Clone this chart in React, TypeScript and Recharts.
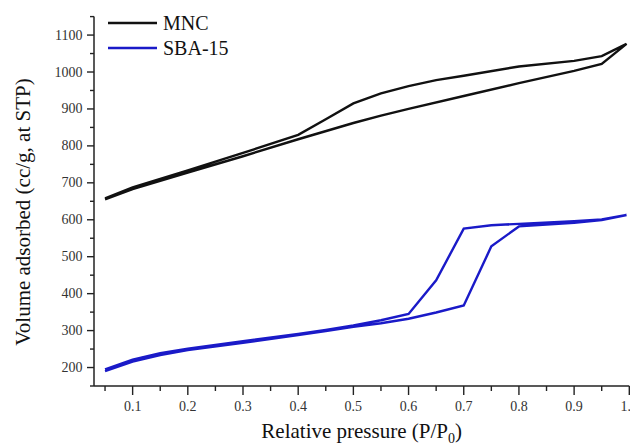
import { LineChart, Line, XAxis, YAxis, Legend, Label } from "recharts"

// relative pressure (P/P0) and volume adsorbed (cc/g at STP)
const mncAdsP = [0.05, 0.1, 0.2, 0.3, 0.4, 0.5, 0.55, 0.6, 0.7, 0.8, 0.9, 0.95, 0.995]
const mncAdsV = [655, 683, 728, 772, 818, 862, 882, 900, 935, 970, 1003, 1022, 1076]
const mncDesP = [0.995, 0.95, 0.9, 0.8, 0.7, 0.65, 0.6, 0.55, 0.5, 0.45, 0.4, 0.3, 0.2, 0.1, 0.05]
const mncDesV = [1076, 1043, 1030, 1015, 990, 978, 962, 942, 915, 872, 830, 781, 734, 688, 658]

const sbaAdsP = [0.05, 0.1, 0.15, 0.2, 0.3, 0.4, 0.45, 0.5, 0.55, 0.6, 0.65, 0.7, 0.75, 0.8, 0.85, 0.9, 0.95, 0.995]
const sbaAdsV = [190, 216, 234, 247, 267, 288, 299, 310, 320, 332, 349, 368, 528, 582, 587, 592, 599, 613]
const sbaDesP = [0.995, 0.95, 0.9, 0.8, 0.75, 0.7, 0.65, 0.6, 0.55, 0.5, 0.45, 0.4, 0.3, 0.2, 0.15, 0.1, 0.05]
const sbaDesV = [613, 601, 596, 589, 585, 576, 436, 345, 328, 314, 302, 291, 271, 251, 239, 221, 195]

const xTicks = [0.05, 0.1, 0.15, 0.2, 0.25, 0.3, 0.35, 0.4, 0.45, 0.5, 0.55, 0.6, 0.65, 0.7, 0.75, 0.8, 0.85, 0.9, 0.95, 1.0]
const yTicks = [150, 200, 250, 300, 350, 400, 450, 500, 550, 600, 650, 700, 750, 800, 850, 900, 950, 1000, 1050, 1100, 1150]

const FONT = "Liberation Serif"
const AXIS = "#222"

const loop = (aP: number[], aV: number[], dP: number[], dV: number[]) => [
  ...aP.map((p, i) => ({ p, v: aV[i] })),
  ...dP.map((p, i) => ({ p, v: dV[i] })),
]

const mncData = loop(mncAdsP, mncAdsV, mncDesP, mncDesV)
const sbaData = loop(sbaAdsP, sbaAdsV, sbaDesP, sbaDesV)

const XTick = (props: any) => {
  const { x, y, payload } = props
  const major = Math.round(payload.value * 100) % 10 === 0
  return (
    <g>
      <line x1={x} x2={x} y1={y} y2={y + (major ? 9 : 5)} stroke={AXIS} strokeWidth={1.4} />
      {major && (
        <text x={x} y={y + 20} textAnchor="middle" dominantBaseline="central" fontFamily={FONT} fontSize={14} fill="#333">
          {payload.value.toFixed(1)}
        </text>
      )}
    </g>
  )
}

const YTick = (props: any) => {
  const { x, y, payload } = props
  const major = payload.value % 100 === 0
  return (
    <g>
      <line x1={x} x2={x - (major ? 7 : 4)} y1={y} y2={y} stroke={AXIS} strokeWidth={1.4} />
      {major && payload.value >= 200 && payload.value <= 1100 && (
        <text x={x - 11.5} y={y} textAnchor="end" dominantBaseline="central" fontFamily={FONT} fontSize={14} fill="#333">
          {payload.value}
        </text>
      )}
    </g>
  )
}

const XLabel = (props: any) => {
  const vb = props.viewBox
  return (
    <text x={vb.x + vb.width / 2} y={vb.y + 52} textAnchor="middle" fontFamily={FONT} fontSize={21} fill="#111">
      Relative pressure (P/P<tspan dy={5} fontSize={14}>0</tspan><tspan dy={-5}>)</tspan>
    </text>
  )
}

const YLabel = () => {
  const cx = 15
  const cy = 204
  return (
    <text x={cx} y={cy} transform={`rotate(-90, ${cx}, ${cy})`} textAnchor="middle" dominantBaseline="central" fontFamily={FONT} fontSize={21} fill="#111">
      Volume adsorbed (cc/g, at STP)
    </text>
  )
}

const renderLegend = (props: any) => (
  <svg width={160} height={60}>
    {(props.payload || []).map((item: any, i: number) => (
      <g key={item.value}>
        <line x1={8} x2={57} y1={15 + 25 * i} y2={15 + 25 * i} stroke={item.color} strokeWidth={2.5} />
        <text x={63} y={15 + 25 * i} dominantBaseline="central" fontFamily={FONT} fontSize={20} fill="#111">
          {item.value}
        </text>
      </g>
    ))}
  </svg>
)

export default function App() {
  return (
    <LineChart width={630} height={438} margin={{ top: 8.6, right: 8.7, left: 0, bottom: 0 }}>
      <XAxis
        type="number"
        dataKey="p"
        domain={[0.03, 1.0]}
        ticks={xTicks}
        interval={0}
        tick={<XTick />}
        tickLine={false}
        tickSize={0}
        tickMargin={0}
        height={60}
        axisLine={{ stroke: AXIS, strokeWidth: 1.5 }}
        allowDuplicatedCategory={false}
      >
        <Label content={<XLabel />} />
      </XAxis>
      <YAxis
        type="number"
        dataKey="v"
        domain={[150, 1150]}
        ticks={yTicks}
        interval={0}
        tick={<YTick />}
        tickLine={false}
        tickSize={0}
        tickMargin={0}
        width={86}
        axisLine={{ stroke: AXIS, strokeWidth: 1.5 }}
      >
        <Label content={<YLabel />} />
      </YAxis>
      <Legend
        layout="horizontal"
        align="center"
        verticalAlign="middle"
        content={renderLegend}
        wrapperStyle={{ position: "absolute", top: 0, left: 92, width: 160, height: 60 }}
      />
      <Line data={mncData} dataKey="v" name="MNC" stroke="#111" strokeWidth={2.4} dot={false} type="linear" isAnimationActive={false} />
      <Line data={sbaData} dataKey="v" name="SBA-15" stroke="#1a1ac8" strokeWidth={2.4} dot={false} type="linear" isAnimationActive={false} />
    </LineChart>
  )
}
